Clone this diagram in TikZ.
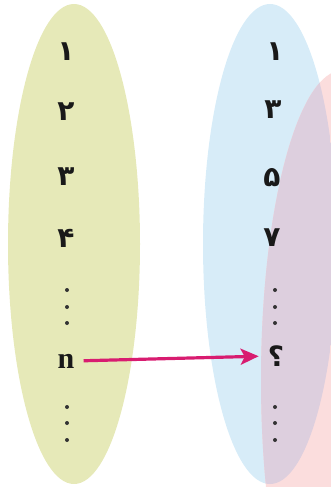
\documentclass[tikz,border=0pt]{standalone}
\usepackage{fontspec}
\usetikzlibrary{arrows.meta}
\newfontfamily\fafont[Script=Arabic]{DejaVu Sans}
\newfontfamily\latinfont{Liberation Serif}
\definecolor{leftfill}{RGB}{230,233,184}
\definecolor{bluefill}{RGB}{215,236,248}
\definecolor{pinkfill}{RGB}{251,221,221}
\definecolor{overlapfill}{RGB}{221,207,222}
\definecolor{arrowc}{RGB}{216,28,112}
\tikzset{
  digit/.style={inner sep=0pt, font=\fafont\bfseries\fontsize{28}{30}\selectfont, text=black!90},
  latin/.style={inner sep=0pt, font=\latinfont\bfseries\fontsize{30}{32}\selectfont, text=black!90},
  dotmark/.style={circle, fill=black!80, inner sep=0pt, minimum size=4pt},
  maparrow/.style={draw=arrowc, line width=3.2pt, -{Stealth[length=18pt,width=16pt,inset=4pt]}}
}
\begin{document}
\begin{tikzpicture}[x=1pt,y=-1pt]
\useasboundingbox (0,0) rectangle (331,487);
\begin{scope}
\clip (0,0) rectangle (331,487);
\fill[leftfill] (74,244) ellipse [x radius=66pt, y radius=240pt];
\fill[bluefill] (270,244) ellipse [x radius=67pt, y radius=240pt];
\fill[pinkfill] (343,380) ellipse [x radius=82pt, y radius=310pt];
\begin{scope}
\clip (270,244) ellipse [x radius=67pt, y radius=240pt];
\fill[overlapfill] (343,380) ellipse [x radius=82pt, y radius=310pt];
\end{scope}
\end{scope}
% left column
\node[digit] (l1) at (66,52) {۱};
\node[digit] (l2) at (66,112) {۲};
\node[digit] (l3) at (66,177) {۳};
\node[digit] (l4) at (66,238) {۴};
\node[dotmark] (ld1) at (67,290) {};
\node[dotmark] (ld2) at (67,307) {};
\node[dotmark] (ld3) at (67,323) {};
\node[latin] (n) at (66,361) {n};
\node[dotmark] (ld4) at (67,407) {};
\node[dotmark] (ld5) at (67,423) {};
\node[dotmark] (ld6) at (67,440) {};
% right column
\node[digit] (r1) at (275,52) {۱};
\node[digit] (r3) at (273,110) {۳};
\node[digit] (r5) at (272,178) {۵};
\node[digit] (r7) at (272,238) {۷};
\node[dotmark] (rd1) at (275,290) {};
\node[dotmark] (rd2) at (275,307) {};
\node[dotmark] (rd3) at (275,323) {};
\node[digit] (q) at (276,356) {؟};
\node[dotmark] (rd4) at (275,407) {};
\node[dotmark] (rd5) at (275,423) {};
\node[dotmark] (rd6) at (275,440) {};
% arrow
\draw[maparrow, shorten <=9pt, shorten >=9pt] (n.east) -- (q.west);
\end{tikzpicture}
\end{document}
